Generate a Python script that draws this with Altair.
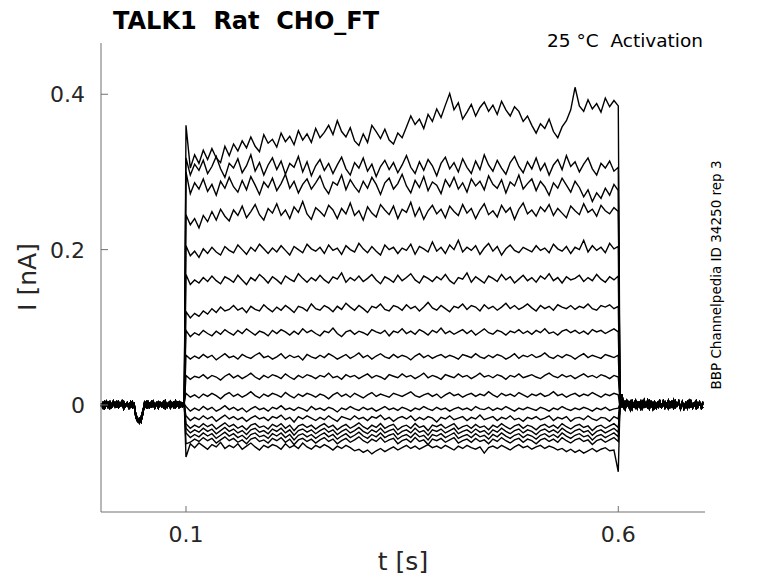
import altair as alt
import pandas as pd

# ---------------- data (current in 1e-3 nA) ----------------
# time grids (s)
PRE_T = [round(0.002 + 0.002 * k, 3) for k in range(49)]
PULSE_T = [round(0.100 + 0.005 * i, 3) for i in range(101)]
POST_T = [round(0.602 + 0.002 * k, 3) for k in range(49)]

# holding baseline before the step (three overlapping sweeps' shapes)
BASE_PRE_1 = [2,-3,4,-1,3,-4,1,5,-2,3,-3,2,-1,4,-2,1,-4,3,0,2,-14,-19,-17,-20,-12,3,-2,4,-3,1,5,-1,2,-4,3,-2,4,0,-3,2,5,-1,3,-3,1,4,-2,2,-1]
BASE_PRE_2 = [-2,3,-4,2,-1,4,-3,0,3,-2,4,-1,2,-5,1,3,-2,4,-3,1,-16,-21,-18,-22,-10,-1,4,-3,2,-2,3,-4,1,4,-1,2,-3,5,-2,0,-4,2,4,-1,3,-3,1,-2,4]
BASE_PRE_3 = [0,-4,2,5,-3,1,-2,3,-1,4,-3,1,5,-2,0,3,-1,-3,4,-2,-12,-18,-23,-16,-8,1,-3,3,-1,4,-2,0,3,-3,2,-1,4,-4,1,3,-2,2,-3,5,-1,0,3,-2,1]

# baseline after the step
BASE_POST_1 = [6,14,3,-4,5,-2,4,-5,2,6,-3,1,5,-4,3,-1,6,-3,2,-5,4,0,-3,5,-2,3,-4,1,6,-2,4,-3,2,-1,5,-4,3,0,-3,4,-2,5,-1,2,-4,3,1,-2,4]
BASE_POST_2 = [-4,5,-3,4,-1,3,-6,2,-2,5,-4,3,0,-3,6,-2,1,-5,4,-1,3,-4,2,5,-3,0,4,-2,-5,3,1,-4,5,-1,2,-3,4,-5,1,3,-2,4,-4,0,5,-3,2,-1,-4]
BASE_POST_3 = [1,-2,6,-5,2,4,-3,5,-1,-4,3,0,-5,4,-2,2,-3,5,-1,3,-4,1,4,-2,-3,5,-1,2,-4,3,-2,6,-3,0,4,-5,2,-1,3,-4,5,-2,1,3,-3,0,4,-4,2]

# step responses, one list per voltage step (t = 0.100 ... 0.600)
TR01 = [360,305,322,311,328,316,330,318,312,333,321,336,327,340,331,345,333,326,348,337,342,332,350,339,346,335,353,341,349,338,356,344,351,360,348,366,352,345,357,340,334,349,338,360,352,343,355,341,336,350,344,358,372,361,368,356,374,365,381,370,386,401,380,389,368,377,387,372,383,390,378,386,374,391,380,372,384,378,365,372,360,350,362,356,368,352,344,358,366,380,409,385,378,393,381,388,377,395,384,392,385]
TR02 = [318,296,310,302,315,298,307,320,304,293,311,305,317,299,308,322,301,312,296,309,318,303,314,297,311,306,320,300,313,295,308,316,302,311,298,309,319,304,296,312,305,318,301,310,294,307,315,303,312,299,309,321,306,298,313,302,316,308,295,311,319,304,312,300,317,306,298,314,303,322,309,301,315,305,297,312,320,307,299,313,304,318,302,311,296,309,316,303,321,307,313,300,310,318,304,296,311,305,314,301,306]
TR03 = [300,272,286,278,291,275,284,270,288,279,293,281,274,289,277,294,283,271,287,280,292,276,285,297,279,288,273,284,291,278,286,295,280,272,287,283,296,277,290,281,274,288,279,293,284,271,286,292,278,285,297,282,273,289,280,294,276,287,283,272,290,281,293,278,286,274,291,282,288,277,295,284,279,290,273,287,282,296,278,285,291,276,288,281,270,286,279,292,283,274,288,280,268,277,262,273,266,279,270,284,276]
TR04 = [245,232,240,228,244,236,249,238,252,243,237,251,244,256,241,249,258,245,238,253,247,259,244,251,240,255,248,262,246,239,254,249,243,257,251,240,253,246,260,244,250,238,255,247,242,258,251,245,256,240,252,248,261,243,254,239,250,257,246,252,241,256,249,244,258,247,253,240,251,259,245,250,242,257,248,254,239,252,260,246,251,243,255,249,258,244,253,247,241,256,250,245,259,248,252,243,257,250,246,254,249]
TR05 = [205,192,198,190,201,195,203,197,193,204,199,196,206,200,194,203,198,207,201,195,202,197,205,199,193,204,200,196,207,201,198,203,195,206,199,202,194,205,200,197,208,201,196,204,198,193,206,200,203,195,202,199,207,194,204,201,197,210,198,203,195,206,200,212,197,203,199,205,194,202,208,198,204,193,201,206,199,196,203,200,197,205,199,202,196,207,201,198,204,195,203,200,212,197,205,199,203,196,208,201,204]
TR06 = [168,155,161,157,164,159,166,160,156,165,162,158,167,161,155,164,160,168,163,157,165,161,156,166,162,159,169,163,158,164,160,167,161,157,165,162,170,158,164,160,166,159,163,168,161,156,165,162,158,167,160,164,169,161,157,166,163,159,165,161,168,160,156,164,162,170,158,165,161,157,166,163,159,168,161,165,157,162,167,160,164,158,166,162,169,160,164,157,165,161,163,167,159,164,160,168,162,158,165,161,166]
TR07 = [120,112,118,114,121,117,124,119,126,121,123,128,122,125,119,127,123,121,129,124,120,126,122,128,124,119,127,125,121,130,124,122,128,125,120,127,123,131,126,122,128,124,119,127,125,130,123,121,128,126,122,129,124,127,121,126,132,125,122,128,124,120,127,125,130,123,128,126,121,129,124,127,122,126,131,124,128,123,126,130,125,121,128,124,127,122,129,126,124,128,123,127,125,130,124,122,128,126,129,124,127]
TR08 = [96,88,93,90,96,92,89,95,91,97,93,90,96,92,98,94,90,95,93,89,96,92,97,94,90,95,91,98,93,96,92,89,95,93,99,92,88,94,96,91,95,93,90,97,94,92,96,89,95,93,98,92,95,91,97,94,90,96,93,99,92,95,91,94,97,92,96,90,94,98,93,91,96,94,90,95,93,97,92,95,91,96,93,98,92,94,90,95,97,93,96,92,95,91,97,94,96,92,95,98,94]
TR09 = [64,59,63,60,65,61,64,58,62,66,61,63,59,65,62,60,64,67,61,63,59,62,66,60,64,61,63,58,65,62,60,64,61,66,63,59,62,65,60,63,67,61,64,59,63,66,62,60,65,61,64,62,58,63,66,61,64,60,63,65,61,64,62,59,65,63,61,66,62,60,64,61,65,63,59,62,66,60,64,62,65,61,63,67,62,60,64,61,65,63,59,63,66,61,64,62,60,65,63,61,64]
TR10 = [38,33,37,35,39,34,38,36,32,37,40,35,38,34,37,41,36,33,38,35,39,37,34,40,36,33,38,35,39,37,34,38,36,41,35,37,33,39,36,38,34,37,40,35,38,36,33,39,37,35,40,36,38,34,37,41,35,38,36,33,39,37,35,40,36,38,34,37,41,36,38,35,39,37,33,38,36,40,35,37,39,36,34,38,41,37,35,39,36,38,34,37,40,36,38,35,39,37,34,38,36]
TR11 = [15,10,13,9,14,11,15,12,8,13,16,11,14,10,13,17,12,9,14,11,15,13,10,16,12,9,14,11,15,13,10,14,12,8,13,16,11,14,10,15,12,9,13,16,11,14,12,10,15,13,11,14,17,12,10,13,15,11,14,9,13,16,12,14,10,13,15,11,14,12,17,13,10,15,12,14,11,16,13,10,14,12,15,11,13,17,12,14,10,13,15,11,14,12,16,13,10,14,12,15,13]
TR12 = [-2,-8,-4,-7,-2,-6,-3,-8,-5,-1,-6,-3,-7,-4,-9,-5,-2,-6,-4,-8,-3,-5,-1,-6,-4,-7,-3,-5,-8,-2,-6,-4,-7,-3,-5,-9,-4,-6,-2,-5,-7,-3,-6,-4,-8,-5,-2,-6,-4,-7,-3,-5,-8,-4,-6,-2,-5,-7,-3,-6,-4,-8,-5,-3,-6,-4,-7,-2,-5,-6,-3,-7,-4,-6,-2,-5,-8,-4,-6,-3,-5,-7,-3,-5,-8,-4,-6,-2,-5,-7,-4,-6,-3,-5,-8,-4,-6,-3,-7,-5,-4]
TR13 = [-14,-20,-16,-19,-14,-18,-15,-21,-17,-13,-18,-15,-19,-16,-21,-17,-14,-18,-16,-20,-15,-17,-13,-19,-16,-22,-15,-18,-14,-17,-20,-16,-19,-14,-18,-21,-15,-17,-19,-14,-18,-16,-20,-15,-17,-13,-19,-16,-21,-17,-15,-18,-14,-20,-16,-19,-15,-17,-22,-16,-18,-14,-19,-17,-15,-20,-16,-18,-13,-19,-17,-15,-20,-16,-18,-14,-19,-17,-21,-16,-18,-15,-19,-17,-14,-20,-16,-18,-15,-21,-17,-16,-19,-14,-18,-20,-16,-17,-21,-15,-18]
TR14 = [-24,-30,-26,-29,-24,-28,-25,-31,-27,-23,-28,-25,-30,-27,-32,-26,-24,-29,-27,-31,-25,-28,-24,-30,-26,-33,-27,-25,-29,-26,-31,-27,-24,-29,-26,-32,-28,-25,-30,-27,-23,-28,-31,-26,-29,-24,-30,-27,-25,-32,-28,-26,-30,-24,-29,-27,-33,-26,-28,-25,-30,-27,-24,-31,-28,-26,-30,-25,-29,-27,-32,-26,-29,-24,-28,-31,-27,-25,-30,-26,-28,-32,-27,-25,-29,-26,-30,-24,-28,-31,-27,-25,-29,-27,-33,-28,-26,-30,-27,-24,-29]
TR15 = [-30,-36,-32,-35,-30,-34,-31,-37,-33,-29,-34,-31,-36,-33,-38,-32,-30,-35,-33,-37,-31,-34,-30,-36,-32,-39,-33,-31,-35,-32,-37,-33,-30,-35,-32,-38,-34,-31,-36,-33,-29,-34,-37,-32,-35,-30,-36,-33,-31,-38,-34,-32,-36,-30,-35,-33,-39,-32,-34,-31,-36,-33,-30,-37,-34,-32,-36,-31,-35,-33,-38,-32,-35,-30,-34,-37,-33,-31,-36,-32,-34,-38,-33,-31,-35,-32,-36,-30,-34,-37,-33,-31,-35,-33,-39,-34,-32,-36,-33,-30,-35]
TR16 = [-36,-42,-38,-41,-36,-40,-37,-43,-39,-35,-40,-37,-42,-39,-44,-38,-36,-41,-39,-43,-37,-40,-36,-42,-38,-45,-39,-37,-41,-38,-43,-39,-36,-41,-38,-44,-40,-37,-42,-39,-35,-40,-43,-38,-41,-36,-42,-39,-37,-44,-40,-38,-42,-36,-41,-39,-45,-38,-40,-37,-42,-39,-36,-43,-40,-38,-42,-37,-41,-39,-44,-38,-41,-36,-40,-43,-39,-37,-42,-38,-40,-44,-39,-37,-41,-38,-42,-36,-40,-43,-39,-37,-41,-39,-45,-40,-38,-42,-39,-36,-41]
TR17 = [-50,-48,-44,-47,-42,-46,-43,-49,-45,-41,-46,-43,-48,-45,-50,-44,-42,-47,-45,-49,-43,-46,-42,-48,-44,-51,-45,-43,-47,-44,-49,-45,-42,-47,-44,-50,-46,-43,-48,-45,-41,-46,-49,-44,-47,-42,-48,-45,-43,-50,-46,-44,-48,-42,-47,-45,-51,-44,-46,-43,-48,-45,-42,-49,-46,-44,-48,-43,-47,-45,-50,-44,-47,-42,-46,-49,-45,-43,-48,-44,-46,-50,-45,-43,-47,-44,-48,-42,-46,-49,-45,-43,-47,-45,-51,-46,-44,-48,-45,-42,-47]
TR18 = [-67,-50,-55,-49,-53,-57,-51,-54,-48,-56,-52,-55,-50,-57,-53,-49,-54,-58,-52,-55,-51,-53,-57,-50,-55,-52,-56,-49,-54,-57,-52,-55,-51,-54,-58,-53,-56,-52,-55,-59,-57,-61,-58,-63,-59,-56,-60,-57,-54,-58,-55,-52,-56,-53,-57,-54,-51,-55,-53,-56,-52,-55,-58,-53,-56,-52,-55,-57,-54,-62,-55,-53,-56,-52,-55,-58,-54,-51,-55,-53,-57,-54,-52,-56,-53,-55,-58,-56,-60,-57,-61,-58,-62,-59,-56,-60,-57,-55,-59,-58,-86]

TRACES = [TR01, TR02, TR03, TR04, TR05, TR06, TR07, TR08, TR09,
          TR10, TR11, TR12, TR13, TR14, TR15, TR16, TR17, TR18]
BASE_PRE = [BASE_PRE_1, BASE_PRE_2, BASE_PRE_3]
BASE_POST = [BASE_POST_1, BASE_POST_2, BASE_POST_3]

X_TICKS = [0.1, 0.6]
X_TICK_LABELS = ["0.1", "0.6"]
Y_TICKS = [0.0, 0.2, 0.4]
Y_TICK_LABELS = ["0", "0.2", "0.4"]

NB = "\u00a0"
TITLE = "TALK1" + NB + " Rat" + NB + " CHO_FT"
SUBTITLE = "25 °C" + NB + " Activation"
SIDE_NOTE = "BBP Channelpedia ID 34250 rep 3"
X_LABEL = "t [s]"
Y_LABEL = "I [nA]"

# ---------------- build table ----------------
rows = []
for k, tr in enumerate(TRACES):
    pre = BASE_PRE[k % 3]
    post = BASE_POST[k % 3]
    for t, v in zip(PRE_T, pre):
        rows.append({"trace": k, "t": t, "v": v / 1000})
    for t, v in zip(PULSE_T, tr):
        rows.append({"trace": k, "t": t, "v": v / 1000})
    for t, v in zip(POST_T, post):
        rows.append({"trace": k, "t": t, "v": v / 1000})
df = pd.DataFrame(rows)

W, H = 604, 469
FONT = "DejaVu Sans"
AX_COL = "#707070"
LBL_COL = "#262626"

xscale = alt.Scale(domain=[0.0017, 0.7003], nice=False, zero=False)
yscale = alt.Scale(domain=[-0.1378, 0.466], nice=False, zero=False)

lines = alt.Chart(df).mark_line(color="black", strokeWidth=1.4).encode(
    x=alt.X("t:Q", scale=xscale, axis=None),
    y=alt.Y("v:Q", scale=yscale, axis=None),
    detail="trace:N",
)

# axis lines (left and bottom only)
frame_df = pd.DataFrame({"k": [0]})
left_line = alt.Chart(frame_df).mark_rule(color=AX_COL, strokeWidth=1).encode(
    x=alt.value(0), y=alt.value(0), y2=alt.value(H))
bottom_line = alt.Chart(frame_df).mark_rule(color=AX_COL, strokeWidth=1).encode(
    x=alt.value(0), x2=alt.value(W), y=alt.value(H))

# inward ticks and tick labels
ytick_df = pd.DataFrame({"v": Y_TICKS, "lab": Y_TICK_LABELS})
ytick = alt.Chart(ytick_df).mark_rule(color=AX_COL, strokeWidth=1).encode(
    y=alt.Y("v:Q", scale=yscale, axis=None),
    x=alt.value(0), x2=alt.value(7),
)
ylabels = alt.Chart(ytick_df).mark_text(
    font=FONT, fontSize=22, color=LBL_COL, align="right", baseline="alphabetic", dy=8
).encode(y=alt.Y("v:Q", scale=yscale, axis=None), x=alt.value(-16), text="lab:N")

xtick_df = pd.DataFrame({"t": X_TICKS, "lab": X_TICK_LABELS})
xtick = alt.Chart(xtick_df).mark_rule(color=AX_COL, strokeWidth=1).encode(
    x=alt.X("t:Q", scale=xscale, axis=None),
    y=alt.value(H), y2=alt.value(H - 6),
)
xlabels = alt.Chart(xtick_df).mark_text(
    font=FONT, fontSize=22, color=LBL_COL, align="center", baseline="alphabetic"
).encode(x=alt.X("t:Q", scale=xscale, axis=None), y=alt.value(H + 30), text="lab:N")


def label(text, x, y, size, align="center", angle=0, weight="normal",
          baseline="alphabetic", color="black"):
    d = pd.DataFrame({"txt": [text]})
    return alt.Chart(d).mark_text(
        font=FONT, fontSize=size, align=align, angle=angle, fontWeight=weight,
        baseline=baseline, color=color,
    ).encode(text="txt:N", x=alt.value(x), y=alt.value(y))

title = label(TITLE, 12, -14, 24, align="left", weight="bold")
sub = label(SUBTITLE, 602, 4, 18.5, align="right")
side = label(SIDE_NOTE, 616, 232, 13.5, angle=270, baseline="middle")
xlab = label(X_LABEL, 302, 527, 25, color=LBL_COL)
ylab = label(Y_LABEL, -73, 234, 25, angle=270, baseline="middle", color=LBL_COL)

chart = alt.layer(
    lines, left_line, bottom_line, ytick, xtick, ylabels, xlabels,
    title, sub, side, xlab, ylab,
).properties(
    width=W, height=H, autosize="none", background="white",
    padding={"left": 93, "top": 35, "right": 65, "bottom": 63},
).configure_view(strokeWidth=0, stroke=None)

chart.save("out.html", embed_options={"renderer": "svg", "actions": False})
